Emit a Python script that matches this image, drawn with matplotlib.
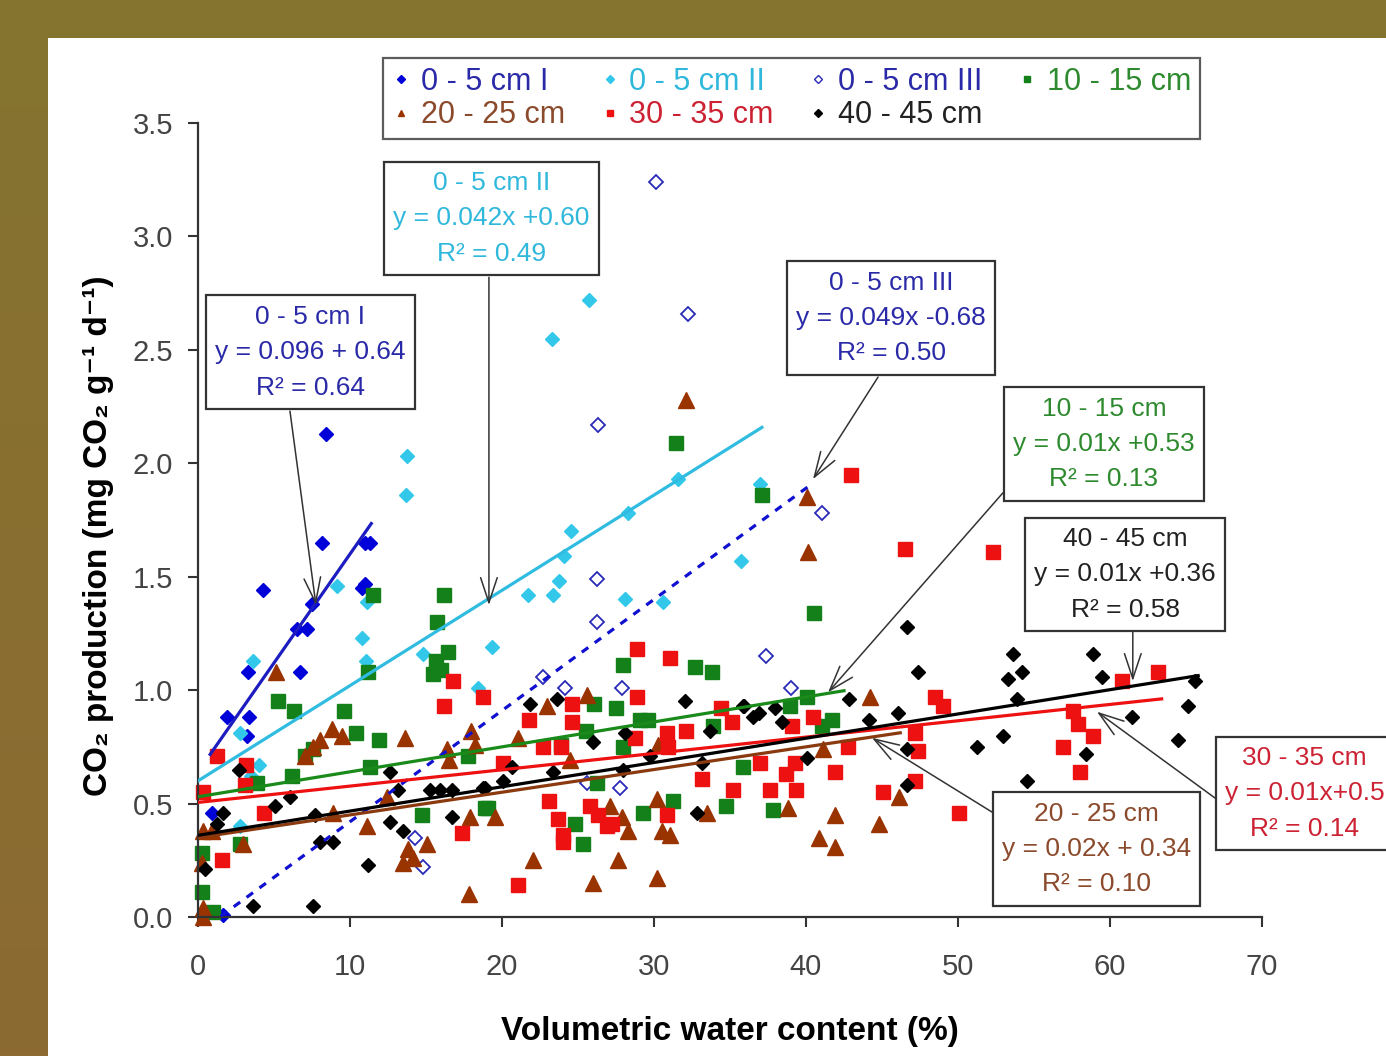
import matplotlib
matplotlib.use('Agg')
import matplotlib.pyplot as plt
import numpy as np
from matplotlib.colors import LinearSegmentedColormap
from matplotlib.lines import Line2D

plt.rcParams['font.family'] = ['Liberation Sans', 'DejaVu Sans']

# ---- data (x = water content %, y = CO2 production) ----
labels = ['0 - 5 cm I', '0 - 5 cm II', '0 - 5 cm III', '10 - 15 cm',
          '20 - 25 cm', '30 - 35 cm', '40 - 45 cm']

x_05_1 = [8.42, 4.28, 8.16, 10.99, 11.3, 10.99, 10.79, 7.5, 6.51, 7.17, 3.29, 6.71, 1.91, 3.36, 3.22, 0.92, 1.64]
y_05_1 = [2.13, 1.44, 1.65, 1.65, 1.65, 1.47, 1.45, 1.38, 1.27, 1.27, 1.08, 1.08, 0.88, 0.88, 0.80, 0.46, 0.01]

x_05_2 = [25.72, 23.29, 13.75, 13.68, 24.54, 28.29, 31.58, 36.97, 35.72, 30.59, 28.09, 24.08, 23.75, 23.36,
          21.71, 19.34, 18.42, 14.8, 9.14, 11.12, 10.79, 11.05, 3.62, 2.76, 4.01, 3.49, 2.76]
y_05_2 = [2.72, 2.55, 2.03, 1.86, 1.70, 1.78, 1.93, 1.91, 1.57, 1.39, 1.40, 1.59, 1.48, 1.42,
          1.42, 1.19, 1.01, 1.16, 1.46, 1.39, 1.23, 1.13, 1.13, 0.81, 0.67, 0.62, 0.40]

x_05_3 = [30.13, 32.24, 26.32, 41.05, 26.25, 26.25, 37.37, 39.01, 27.89, 24.14, 22.7, 25.59, 27.76, 14.28, 14.8]
y_05_3 = [3.24, 2.66, 2.17, 1.78, 1.49, 1.30, 1.15, 1.01, 1.01, 1.01, 1.06, 0.59, 0.57, 0.35, 0.22]

x_10 = [31.45, 37.11, 40.53, 11.51, 16.18, 15.72, 16.45, 15.66, 15.99, 15.46, 11.18, 5.26, 6.32, 9.61, 10.39,
        11.91, 7.57, 7.04, 6.18, 3.88, 11.32, 14.74, 18.88, 2.76, 0.26, 0.26, 0.99, 27.96, 32.7, 33.82,
        26.05, 27.5, 29.08, 29.61, 25.53, 27.96, 23.88, 17.76, 33.88, 35.86, 26.25, 19.08, 31.25, 34.74, 24.8,
        29.28, 25.33, 40.07, 38.95, 41.71, 41.05, 37.83]
y_10 = [2.09, 1.86, 1.34, 1.42, 1.42, 1.30, 1.17, 1.13, 1.09, 1.07, 1.08, 0.95, 0.91, 0.91, 0.81,
        0.78, 0.74, 0.71, 0.62, 0.59, 0.66, 0.45, 0.48, 0.32, 0.28, 0.11, 0.02, 1.11, 1.10, 1.08,
        0.94, 0.92, 0.87, 0.87, 0.82, 0.75, 0.76, 0.71, 0.84, 0.66, 0.59, 0.48, 0.51, 0.49, 0.41,
        0.46, 0.32, 0.97, 0.93, 0.87, 0.84, 0.47]

x_20 = [32.11, 40.07, 40.13, 44.21, 5.13, 8.82, 9.47, 8.03, 7.57, 7.04, 13.62, 17.96, 18.22, 16.38, 16.51,
        12.43, 11.12, 8.88, 17.89, 15.07, 13.82, 13.49, 14.14, 2.96, 0.33, 0.92, 0.26, 0.33, 0.33, 17.83,
        21.05, 22.96, 25.59, 24.47, 19.54, 27.11, 27.89, 28.29, 22.04, 27.63, 25.99, 30.2, 30.2, 30.53, 31.05,
        30.26, 33.49, 38.82, 41.91, 44.8, 46.12, 40.86, 41.91, 41.12]
y_20 = [2.28, 1.85, 1.61, 0.97, 1.08, 0.83, 0.80, 0.78, 0.75, 0.71, 0.79, 0.82, 0.76, 0.74, 0.69,
        0.53, 0.40, 0.46, 0.44, 0.32, 0.30, 0.24, 0.26, 0.32, 0.38, 0.38, 0.24, 0.04, 0.00, 0.10,
        0.79, 0.93, 0.98, 0.69, 0.44, 0.49, 0.44, 0.38, 0.25, 0.25, 0.15, 0.17, 0.52, 0.38, 0.36,
        0.76, 0.46, 0.48, 0.45, 0.41, 0.53, 0.35, 0.31, 0.74]

x_30 = [42.96, 46.51, 52.3, 63.16, 60.79, 57.57, 57.89, 58.88, 56.91, 58.03, 50.07, 47.17, 47.37, 48.49, 49.01,
        47.17, 45.07, 42.76, 41.91, 40.46, 39.08, 35.13, 34.41, 36.97, 39.28, 38.68, 35.2, 37.63, 39.34, 33.16,
        28.88, 31.05, 16.78, 18.75, 24.61, 28.88, 21.78, 24.61, 22.7, 23.88, 28.75, 30.86, 32.11, 30.92, 20.07,
        23.09, 25.79, 26.32, 30.86, 23.68, 26.91, 27.24, 24.01, 24.01, 17.37, 21.05, 1.25, 3.16, 3.09, 16.18,
        4.34, 1.58, 0.33]
y_30 = [1.95, 1.62, 1.61, 1.08, 1.04, 0.91, 0.85, 0.80, 0.75, 0.64, 0.46, 0.81, 0.73, 0.97, 0.93,
        0.60, 0.55, 0.75, 0.64, 0.88, 0.84, 0.86, 0.92, 0.68, 0.68, 0.63, 0.56, 0.56, 0.56, 0.61,
        1.18, 1.14, 1.04, 0.97, 0.94, 0.97, 0.87, 0.86, 0.75, 0.75, 0.79, 0.81, 0.82, 0.75, 0.68,
        0.51, 0.49, 0.45, 0.45, 0.43, 0.40, 0.41, 0.36, 0.33, 0.37, 0.14, 0.71, 0.67, 0.58, 0.93,
        0.46, 0.25, 0.55]

x_40 = [53.62, 58.88, 53.29, 54.21, 53.88, 59.47, 65.59, 65.13, 61.45, 52.96, 51.25, 58.42, 64.47, 54.54, 46.64,
        47.37, 42.83, 44.14, 46.05, 46.64, 46.64, 35.92, 36.51, 36.91, 37.96, 38.42, 33.68, 40.07, 33.16, 21.84,
        23.62, 25.99, 28.09, 32.04, 35.86, 23.36, 20.07, 18.88, 16.71, 16.71, 32.83, 27.96, 29.74, 20.66, 2.7,
        5.07, 6.05, 7.7, 1.64, 1.25, 12.63, 13.16, 12.63, 13.49, 8.03, 8.88, 11.18, 0.46, 3.62, 7.57,
        15.26, 15.92, 18.75]
y_40 = [1.16, 1.16, 1.05, 1.08, 0.96, 1.06, 1.04, 0.93, 0.88, 0.80, 0.75, 0.72, 0.78, 0.60, 1.28,
        1.08, 0.96, 0.87, 0.90, 0.74, 0.58, 0.93, 0.88, 0.90, 0.92, 0.86, 0.82, 0.70, 0.68, 0.94,
        0.96, 0.77, 0.81, 0.95, 0.93, 0.64, 0.60, 0.57, 0.56, 0.44, 0.46, 0.65, 0.71, 0.66, 0.65,
        0.49, 0.53, 0.45, 0.46, 0.41, 0.64, 0.56, 0.42, 0.38, 0.33, 0.33, 0.23, 0.21, 0.05, 0.05,
        0.56, 0.56, 0.57]

# trendlines as drawn (slope, intercept, x range)
fit_slope = [0.096, 0.042, 0.049, 0.011, 0.010, 0.0072, 0.0107]
fit_icpt = [0.64, 0.60, -0.07, 0.53, 0.35, 0.505, 0.36]
fit_xmin = [0.8, 0.0, 1.5, 0.0, 0.0, 0.0, 0.0]
fit_xmax = [11.4, 37.1, 40.4, 42.5, 46.2, 63.4, 65.8]

eq_text = ['0 - 5 cm I\ny = 0.096 + 0.64\nR² = 0.64',
           '0 - 5 cm II\ny = 0.042x +0.60\nR² = 0.49',
           '0 - 5 cm III\ny = 0.049x -0.68\nR² = 0.50',
           '10 - 15 cm\ny = 0.01x +0.53\nR² = 0.13',
           '20 - 25 cm\ny = 0.02x + 0.34\nR² = 0.10',
           '30 - 35 cm\ny = 0.01x+0.5\nR² = 0.14',
           '40 - 45 cm\ny = 0.01x +0.36\nR² = 0.58']

xs = [x_05_1, x_05_2, x_05_3, x_10, x_20, x_30, x_40]
ys = [y_05_1, y_05_2, y_05_3, y_10, y_20, y_30, y_40]

# ---- styles ----
mk_color = ['#0000d8', '#33c8ea', '#2a2ab8', '#13801a', '#993300', '#ee1111', '#000000']
txt_color = ['#2a2aa8', '#30b8dc', '#2a2aa8', '#2e8a2e', '#8b4a2b', '#cc2233', '#222222']
line_color = ['#1c1cc0', '#30bce0', '#1010d0', '#1a8a1a', '#8b3a0f', '#ee1111', '#000000']
line_style = ['-', '-', (0, (2.5, 2.5)), '-', '-', '-', '-']
markers = ['D', 'D', 'D', 's', '^', 's', 'D']
msize = [7.0, 7.0, 7.0, 9.8, 11, 9.8, 7.4]

# annotation box centre and arrow (tail, head) in data units
box_xy = [(7.37, 2.49), (19.3, 3.08), (45.6, 2.64), (59.6, 2.085), (59.1, 0.30), (72.8, 0.545), (61.0, 1.51)]
arrow_from = [(6.05, 2.23), (19.14, 2.82), (44.74, 2.38), (52.96, 1.87), (52.3, 0.46), (67.0, 0.52), (61.5, 1.265)]
arrow_to = [(7.76, 1.375), (19.14, 1.375), (40.46, 1.93), (41.45, 0.99), (44.34, 0.79), (59.14, 0.905), (61.5, 1.04)]

W, H = 1386, 1056
fig = plt.figure(figsize=(W / 100, H / 100), dpi=100)
fig.patch.set_facecolor('#857430')

# olive border, a bit browner towards the bottom on the left
strip = fig.add_axes([0, 0, 48 / W, 1])
grad = np.linspace(0, 1, 256).reshape(-1, 1)
strip.imshow(grad, aspect='auto', cmap=LinearSegmentedColormap.from_list('b', ['#857430', '#8c6a32']))
strip.axis('off')

panel = fig.add_axes([48 / W, 0, 1 - 48 / W, 1 - 38 / H])
panel.set_facecolor('white')
panel.set_xticks([])
panel.set_yticks([])
for s in panel.spines.values():
    s.set_visible(False)

ax = fig.add_axes([198 / W, 1 - 917 / H, 1064 / W, 794 / H])
ax.patch.set_alpha(0)

for i in range(7):
    if i == 2:
        ax.plot(xs[i], ys[i], linestyle='none', marker='D', ms=msize[i], mfc='white',
                mec=mk_color[i], mew=1.3, clip_on=False, zorder=2)
    else:
        ax.plot(xs[i], ys[i], linestyle='none', marker=markers[i], ms=msize[i], color=mk_color[i],
                mec=mk_color[i], clip_on=False, zorder=2)

for i in range(7):
    fx = np.array([fit_xmin[i], fit_xmax[i]])
    ax.plot(fx, fit_slope[i] * fx + fit_icpt[i], color=line_color[i], lw=2.3,
            linestyle=line_style[i], zorder=3)

for i in range(7):
    ax.annotate('', xy=arrow_to[i], xytext=arrow_from[i], annotation_clip=False,
                arrowprops=dict(arrowstyle='->,head_length=0.9,head_width=0.3', color='#333333',
                                lw=1.1, shrinkA=0, shrinkB=0, mutation_scale=20), zorder=4)
    ax.text(box_xy[i][0], box_xy[i][1], eq_text[i], ha='center', va='center', fontsize=19,
            color=txt_color[i], linespacing=1.6, clip_on=False, zorder=5,
            bbox=dict(boxstyle='square,pad=0.35', fc='white', ec='#333333', lw=1.6))

ax.set_xlim(0, 70)
ax.set_ylim(0, 3.5)
ax.set_xticks(np.arange(0, 71, 10))
ax.set_yticks(np.arange(0, 3.51, 0.5))
ax.set_yticklabels(['%.1f' % v for v in np.arange(0, 3.51, 0.5)])
ax.tick_params(axis='both', direction='out', length=7, width=1.5, color='#333333',
               labelsize=21, labelcolor='#444444')
ax.tick_params(axis='x', pad=19)
ax.tick_params(axis='y', pad=11)
for side in ['top', 'right']:
    ax.spines[side].set_visible(False)
for side in ['left', 'bottom']:
    ax.spines[side].set_color('#333333')
    ax.spines[side].set_linewidth(1.6)

ax.set_xlabel('Volumetric water content (%)', fontsize=24, fontweight='bold')
ax.set_ylabel('CO₂ production (mg CO₂ g⁻¹ d⁻¹)', fontsize=24, fontweight='bold')
ax.xaxis.set_label_coords(0.5, -0.125)
ax.yaxis.set_label_coords(-0.079, 0.48)

# legend, filled row by row
handles = []
for i in range(7):
    if i == 2:
        h = Line2D([], [], linestyle='none', marker='D', ms=4, mfc='white', mec=mk_color[i], mew=1)
    else:
        h = Line2D([], [], linestyle='none', marker=markers[i], ms=5 if markers[i] != 'D' else 4,
                   color=mk_color[i])
    handles.append(h)
order = [0, 4, 1, 5, 2, 6, 3]
leg = fig.legend([handles[k] for k in order], [labels[k] for k in order], ncol=4,
                 loc='upper left', bbox_to_anchor=(383 / W, 1 - 58 / H), fontsize=22,
                 frameon=True, fancybox=False, edgecolor='#333333', borderpad=0.3,
                 labelspacing=0.1, handlelength=0.6, handletextpad=0.35, columnspacing=1.15,
                 borderaxespad=0)
leg.get_frame().set_linewidth(1.6)
for t, k in zip(leg.get_texts(), order):
    t.set_color(txt_color[k])

fig.savefig('out.png', dpi=100, facecolor=fig.get_facecolor())
